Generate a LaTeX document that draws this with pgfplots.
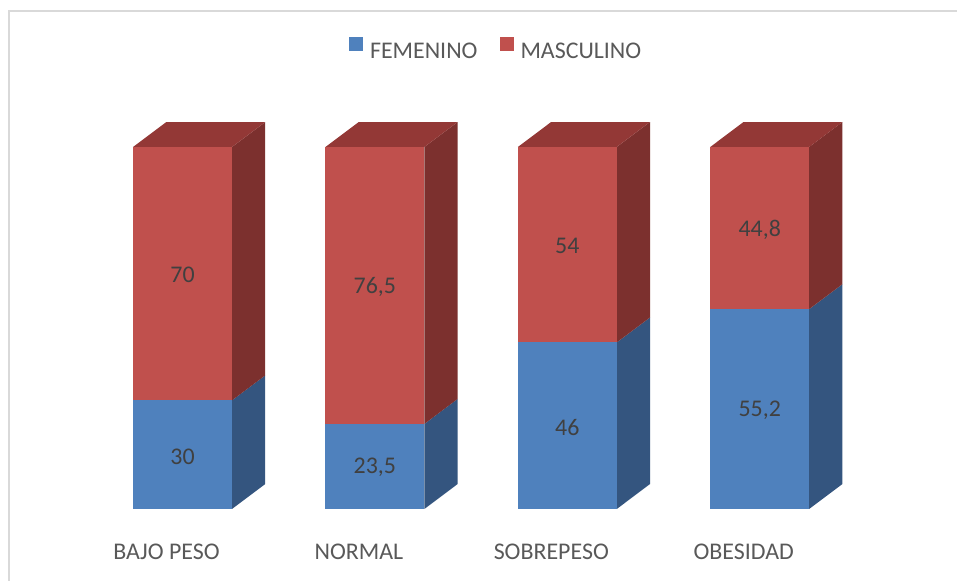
\documentclass[border=0pt]{standalone}
\usepackage{pgfplots}
\pgfplotsset{compat=1.18}
\usepackage{fontspec}
\setmainfont{Carlito}
\definecolor{fblue}{HTML}{4F81BD}
\definecolor{sblue}{HTML}{34557F}
\definecolor{fred}{HTML}{C0504D}
\definecolor{sred}{HTML}{7C302E}
\definecolor{tred}{HTML}{933836}
\definecolor{txt}{HTML}{595959}
\definecolor{lbl}{HTML}{404040}
\definecolor{frame}{HTML}{D9D9D9}
\begin{document}
\begin{tikzpicture}[x=1bp,y=1bp]
\useasboundingbox (0,0) rectangle (957,581);
\fill[white] (0,0) rectangle (957,581);
\draw[frame, line width=1.5bp] (9,0) -- (9,570) -- (957,570);
\begin{axis}[
  at={(182.5bp,72bp)}, anchor=origin,
  x=192.4bp, y=3.62bp,
  xmin=-0.6, xmax=3.6, ymin=0, ymax=110,
  hide axis, clip=false,
  font=\fontsize{24}{28}\selectfont,
  legend style={at={(axis cs:1.63,127)}, anchor=center, draw=none, fill=none,
    legend columns=2, font=\fontsize{24}{28}\selectfont, text=txt,
    /tikz/every even column/.append style={column sep=20bp}},
  legend image code/.code={\fill[#1] (0bp,0bp) rectangle (14bp,14bp); \path (19bp,0bp);},
]
% side and top faces
\addplot[fill=sblue, draw=none, forget plot] coordinates {(0.257,0) (0.43,6.9) (0.43,36.9) (0.257,30)};
\addplot[fill=sred, draw=none, forget plot] coordinates {(0.257,30) (0.43,36.9) (0.43,106.9) (0.257,100)};
\addplot[fill=tred, draw=none, forget plot] coordinates {(-0.257,100) (-0.084,106.9) (0.43,106.9) (0.257,100)};
\addplot[fill=sblue, draw=none, forget plot] coordinates {(1.257,0) (1.43,6.9) (1.43,30.4) (1.257,23.5)};
\addplot[fill=sred, draw=none, forget plot] coordinates {(1.257,23.5) (1.43,30.4) (1.43,106.9) (1.257,100)};
\addplot[fill=tred, draw=none, forget plot] coordinates {(0.743,100) (0.916,106.9) (1.43,106.9) (1.257,100)};
\addplot[fill=sblue, draw=none, forget plot] coordinates {(2.257,0) (2.43,6.9) (2.43,52.9) (2.257,46)};
\addplot[fill=sred, draw=none, forget plot] coordinates {(2.257,46) (2.43,52.9) (2.43,106.9) (2.257,100)};
\addplot[fill=tred, draw=none, forget plot] coordinates {(1.743,100) (1.916,106.9) (2.43,106.9) (2.257,100)};
\addplot[fill=sblue, draw=none, forget plot] coordinates {(3.257,0) (3.43,6.9) (3.43,62.1) (3.257,55.2)};
\addplot[fill=sred, draw=none, forget plot] coordinates {(3.257,55.2) (3.43,62.1) (3.43,106.9) (3.257,100)};
\addplot[fill=tred, draw=none, forget plot] coordinates {(2.743,100) (2.916,106.9) (3.43,106.9) (3.257,100)};
% front faces: FEMENINO
\addplot[fill=fblue, draw=none, forget plot] coordinates {(-0.257,0) (0.257,0) (0.257,30) (-0.257,30)};
\addplot[fill=fblue, draw=none, forget plot] coordinates {(0.743,0) (1.257,0) (1.257,23.5) (0.743,23.5)};
\addplot[fill=fblue, draw=none, forget plot] coordinates {(1.743,0) (2.257,0) (2.257,46) (1.743,46)};
\addplot[fill=fblue, draw=none, forget plot] coordinates {(2.743,0) (3.257,0) (3.257,55.2) (2.743,55.2)};
% front faces: MASCULINO
\addplot[fill=fred, draw=none, forget plot] coordinates {(-0.257,30) (0.257,30) (0.257,100) (-0.257,100)};
\addplot[fill=fred, draw=none, forget plot] coordinates {(0.743,23.5) (1.257,23.5) (1.257,100) (0.743,100)};
\addplot[fill=fred, draw=none, forget plot] coordinates {(1.743,46) (2.257,46) (2.257,100) (1.743,100)};
\addplot[fill=fred, draw=none, forget plot] coordinates {(2.743,55.2) (3.257,55.2) (3.257,100) (2.743,100)};
% value labels
\addplot[draw=none, forget plot, nodes near coords, point meta=explicit symbolic,
  nodes near coords style={anchor=center, text=lbl, font=\fontsize{24}{28}\selectfont}]
  coordinates {(0,14.4) [30] (1,11.4) [23,5] (2,22.6) [46] (3,27.2) [55,2]
               (0,64.6) [70] (1,61.4) [76,5] (2,72.6) [54] (3,77.2) [44,8]};
% category labels
\addplot[draw=none, forget plot, nodes near coords, point meta=explicit symbolic,
  nodes near coords style={anchor=base, yshift=-51bp, xshift=-16bp, text=txt, font=\fontsize{24}{28}\selectfont}]
  coordinates {(0,0) [BAJO PESO] (1,0) [NORMAL] (2,0) [SOBREPESO] (3,0) [OBESIDAD]};
\addlegendimage{fill=fblue, draw=none}
\addlegendentry{FEMENINO}
\addlegendimage{fill=fred, draw=none}
\addlegendentry{MASCULINO}
\end{axis}
\end{tikzpicture}
\end{document}
